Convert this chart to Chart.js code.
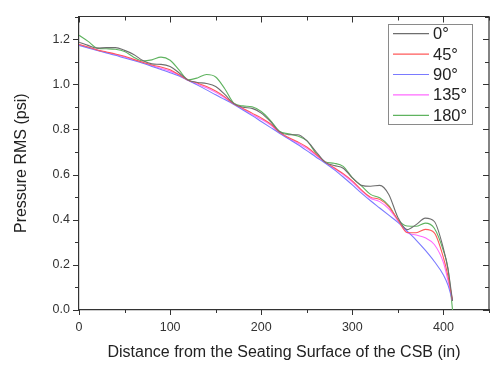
<!DOCTYPE html>
<html>
<head>
<meta charset="utf-8">
<script src="https://cdn.jsdelivr.net/npm/chart.js@4.4.1/dist/chart.umd.min.js"></script>
<style>
html,body{margin:0;padding:0;background:#fff;}
#c{display:block;}
</style>
</head>
<body>
<canvas id="c" width="490" height="367"></canvas>
<script>
const distances = [0,10,20,30,40,50,60,70,80,90,100,110,120,130,140,150,160,170,180,190,200,210,220,230,240,250,260,270,280,290,300,310,320,330,340,350,360,370,380,390,400,405,410];
const seriesLabels = ['0°','45°','90°','135°','180°'];
const p0   = [1.186,1.172,1.160,1.162,1.162,1.150,1.132,1.105,1.090,1.088,1.078,1.050,1.018,1.008,1.003,0.990,0.955,0.914,0.898,0.893,0.872,0.835,0.790,0.776,0.776,0.750,0.702,0.655,0.640,0.628,0.585,0.552,0.548,0.552,0.512,0.410,0.356,0.378,0.407,0.392,0.272,0.180,0.040];
const p45  = [1.176,1.165,1.152,1.143,1.134,1.124,1.110,1.097,1.085,1.076,1.064,1.042,1.018,1.005,0.990,0.970,0.944,0.913,0.893,0.872,0.851,0.825,0.788,0.764,0.745,0.722,0.690,0.656,0.630,0.604,0.572,0.532,0.500,0.490,0.458,0.400,0.343,0.342,0.357,0.342,0.232,0.150,0.040];
const p90  = [1.172,1.161,1.150,1.139,1.128,1.116,1.105,1.093,1.079,1.065,1.051,1.036,1.016,0.996,0.975,0.953,0.932,0.910,0.886,0.861,0.835,0.809,0.783,0.758,0.733,0.706,0.678,0.651,0.622,0.589,0.554,0.518,0.484,0.452,0.420,0.388,0.350,0.310,0.265,0.215,0.155,0.110,0.040];
const p135 = [1.176,1.163,1.151,1.141,1.131,1.121,1.107,1.096,1.082,1.070,1.058,1.040,1.017,1.000,0.984,0.964,0.940,0.912,0.890,0.866,0.845,0.820,0.786,0.760,0.740,0.716,0.686,0.655,0.628,0.600,0.567,0.528,0.495,0.480,0.448,0.396,0.343,0.332,0.320,0.290,0.210,0.130,0.040];
const p180 = [1.217,1.190,1.160,1.157,1.155,1.145,1.120,1.103,1.108,1.120,1.106,1.062,1.020,1.028,1.043,1.032,0.980,0.916,0.904,0.900,0.879,0.840,0.792,0.780,0.771,0.750,0.695,0.657,0.650,0.636,0.586,0.550,0.512,0.497,0.462,0.400,0.372,0.371,0.385,0.362,0.262,0.185,0.000];
const xTickValues = [0,100,200,300,400];
const yTickValues = [0.0,0.2,0.4,0.6,0.8,1.0,1.2];
const xMinorStep = 50;
const yMinorStep = 0.1;
const xRange = [0,450];
const yRange = [0,1.3];

const seriesValues = [p0,p45,p90,p135,p180];
const seriesColors = ['#6e6e6e','#ff5a5a','#7a7aff','#ff6aff','#5fb35f'];
const FONT = "'Liberation Sans', Arial, Helvetica, sans-serif";
const AXIS = '#333333';

const datasets = seriesValues.map((vals,i)=>({
  label: seriesLabels[i],
  data: distances.map((d,j)=>({x:d,y:vals[j]})),
  borderColor: seriesColors[i],
  borderWidth: 1.1,
  pointRadius: 0,
  fill: false,
  cubicInterpolationMode: 'monotone'
}));

const frameTicks = {
  id:'frameTicks',
  afterDraw(chart){
    const ctx = chart.ctx;
    const a = chart.chartArea;
    const xs = chart.scales.x, ys = chart.scales.y;
    ctx.save();
    ctx.strokeStyle = AXIS;
    ctx.lineWidth = 1.2;
    ctx.beginPath();
    ctx.moveTo(a.left, a.top); ctx.lineTo(a.right, a.top);
    ctx.moveTo(a.right, a.top); ctx.lineTo(a.right, a.bottom);
    ctx.stroke();
    ctx.lineWidth = 1;
    ctx.beginPath();
    const nx = Math.round((xRange[1]-xRange[0])/xMinorStep);
    for(let k=0;k<=nx;k++){
      const v = xRange[0]+k*xMinorStep;
      const major = xTickValues.some(t=>Math.abs(t-v)<1e-6);
      const px = Math.round(xs.getPixelForValue(v))+0.5;
      const lo = major?5:3, li = major?6:4;
      ctx.moveTo(px,a.bottom); ctx.lineTo(px,a.bottom+lo);
      ctx.moveTo(px,a.top); ctx.lineTo(px,a.top+li);
    }
    const ny = Math.round((yRange[1]-yRange[0])/yMinorStep);
    for(let k=0;k<=ny;k++){
      const v = yRange[0]+k*yMinorStep;
      const major = yTickValues.some(t=>Math.abs(t-v)<1e-6);
      const py = Math.round(ys.getPixelForValue(v))+0.5;
      const lo = major?6:4, li = major?6:4;
      ctx.moveTo(a.left,py); ctx.lineTo(a.left-lo,py);
      ctx.moveTo(a.right,py); ctx.lineTo(a.right-li,py);
    }
    ctx.stroke();

    // legend box
    const bx=388.5, by=24.5, bw=84, bh=100;
    ctx.fillStyle='#fff';
    ctx.fillRect(bx,by,bw,bh);
    ctx.strokeStyle='#8a8a8a';
    ctx.lineWidth=1;
    ctx.strokeRect(bx,by,bw,bh);
    ctx.font = '16.5px '+FONT;
    ctx.textBaseline='middle';
    ctx.textAlign='left';
    chart.data.datasets.forEach((ds,i)=>{
      const y = 33.7 + i*20.4;
      ctx.strokeStyle = ds.borderColor;
      ctx.lineWidth = 1.2;
      ctx.beginPath();
      ctx.moveTo(393,y); ctx.lineTo(429,y);
      ctx.stroke();
      ctx.fillStyle='#222';
      ctx.fillText(ds.label,433,y+1);
    });
    ctx.restore();
  }
};

new Chart(document.getElementById('c'),{
  type:'line',
  data:{datasets},
  plugins:[frameTicks],
  options:{
    responsive:false,
    animation:false,
    devicePixelRatio:1,
    layout:{padding:{top:7,right:1,left:0,bottom:0}},
    plugins:{legend:{display:false},tooltip:{enabled:false}},
    scales:{
      x:{
        type:'linear',
        min:xRange[0], max:xRange[1],
        afterBuildTicks(s){ s.ticks = xTickValues.map(v=>({value:v})); },
        afterFit(s){ s.height = 57; },
        grid:{display:false,drawTicks:false},
        border:{display:true,color:AXIS,width:1.2},
        ticks:{padding:10,color:'#333',font:{family:FONT,size:12.5},callback:(v)=>String(v),maxRotation:0},
        title:{display:true,text:'Distance from the Seating Surface of the CSB (in)',color:'#222',font:{family:FONT,size:16},padding:{top:0,bottom:5}}
      },
      y:{
        type:'linear',
        min:yRange[0], max:yRange[1],
        afterBuildTicks(s){ s.ticks = yTickValues.map(v=>({value:v})); },
        afterFit(s){ s.width = 79; },
        grid:{display:false,drawTicks:false},
        border:{display:true,color:AXIS,width:1.2},
        ticks:{padding:9,color:'#333',font:{family:FONT,size:12.5},callback:(v)=>Number(v).toFixed(1)},
        title:{display:true,text:'Pressure RMS (psi)',color:'#222',font:{family:FONT,size:16},padding:{top:12,bottom:0}}
      }
    }
  }
});
</script>
</body>
</html>
